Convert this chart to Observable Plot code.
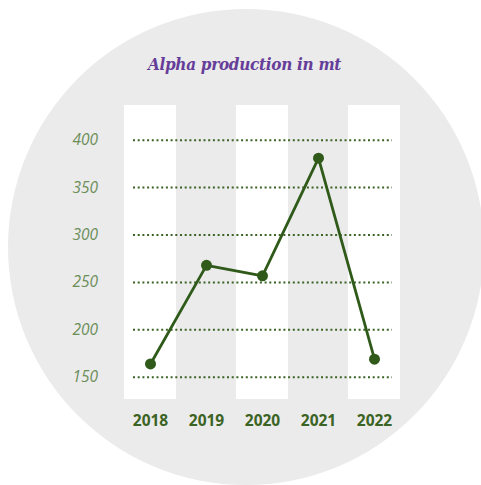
<!DOCTYPE html>
<html>
<head>
<meta charset="utf-8">
<script src="https://cdn.jsdelivr.net/npm/d3@7"></script>
<script src="https://cdn.jsdelivr.net/npm/@observablehq/plot@0.6"></script>
<style>
  html, body { margin: 0; padding: 0; background: #ffffff; }
  #wrap { position: relative; width: 481px; height: 485px; overflow: hidden; }
  #circle { position: absolute; left: 8px; top: 9px; width: 476px; height: 476px; border-radius: 50%; background: #ebebeb; }
  #title { position: absolute; left: 0; width: 489px; top: 54px; text-align: center;
           font-family: "DejaVu Serif Condensed", "DejaVu Serif", serif; font-weight: bold; font-style: italic;
           font-size: 17px; color: #663d99; letter-spacing: -0.3px; }
  #chart { position: absolute; left: 0; top: 0; }
  #chart svg { background: transparent; }
</style>
</head>
<body>
<div id="wrap">
  <div id="circle"></div>
  <div id="title">Alpha production in mt</div>
  <div id="chart"></div>
</div>
<script>
const years = ["2018", "2019", "2020", "2021", "2022"];
const production = [164, 268, 257, 381, 169];
const yTicks = [150, 200, 250, 300, 350, 400];
const shadedYears = ["2018", "2020", "2022"];

const data = years.map((year, i) => ({year, value: production[i]}));

const chart = Plot.plot({
  width: 481,
  height: 485,
  marginLeft: 122,
  marginRight: 79,
  marginTop: 105,
  marginBottom: 86,
  style: {background: "transparent", overflow: "visible"},
  x: {type: "band", domain: years, paddingInner: 0.0714, paddingOuter: 0.0357},
  y: {domain: [126.5, 436.6]},
  marks: [
    Plot.cell(shadedYears, {x: d => d, fill: "#ffffff"}),
    Plot.ruleY(yTicks, {stroke: "#3b6324", strokeWidth: 2, strokeDasharray: "2,2.7", insetLeft: 11, insetRight: 10}),
    Plot.axisY({ticks: yTicks, tickSize: 0, tickPadding: 50, textAnchor: "start",
      fontFamily: "Open Sans", fontStyle: "italic", fontSize: 15.5, fill: "#6b8e5a", label: null}),
    Plot.axisX({tickSize: 0, tickPadding: 15, fontFamily: "Open Sans", fontWeight: "bold",
      fontSize: 15.5, fill: "#3b6324", label: null}),
    Plot.line(data, {x: "year", y: "value", stroke: "#2f5a1a", strokeWidth: 2.8}),
    Plot.dot(data, {x: "year", y: "value", r: 5.5, fill: "#2f5a1a", stroke: "none"})
  ]
});
document.getElementById("chart").appendChild(chart);
</script>
</body>
</html>
